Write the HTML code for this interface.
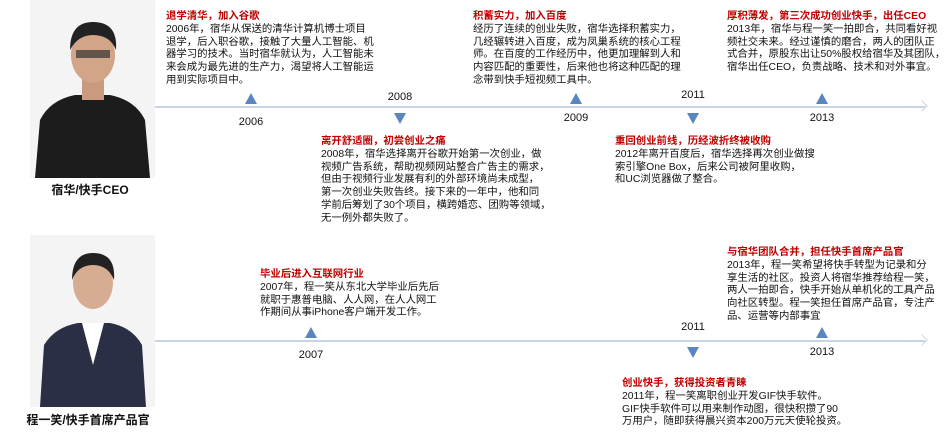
<!DOCTYPE html>
<html><head><meta charset="utf-8"><style>
body{margin:0;width:946px;height:441px;background:#fff;position:relative;overflow:hidden;font-family:"Liberation Sans","Noto Sans CJK SC",sans-serif;color:#111}
.b{position:absolute;font-size:10.4px;line-height:12.8px;white-space:nowrap}
.b .t{color:#c00000;font-weight:bold}
.y{position:absolute;font-size:11px;transform:translateX(-50%)}
.up,.dn{position:absolute;width:0;height:0;border-left:6px solid transparent;border-right:6px solid transparent;transform:translateX(-50%)}
.up{border-bottom:11px solid #5b85c0}
.dn{border-top:11px solid #5b85c0}
.ln{position:absolute;height:2px;background:#c9d3e6}
.nm{position:absolute;font-size:12px;font-weight:bold;transform:translateX(-50%);white-space:nowrap}
</style></head><body>
<svg style="position:absolute;left:30px;top:0" width="125" height="178">
<rect x="0" y="0" width="125" height="178" fill="#f4f4f4"/>
<path d="M5 178 L10 120 Q20 100 45 95 L80 95 Q105 100 115 120 L120 178Z" fill="#1c1c1c"/>
<rect x="52" y="78" width="22" height="22" fill="#c99a7e"/>
<ellipse cx="63" cy="55" rx="22" ry="28" fill="#d2a488"/>
<path d="M40 50 Q40 22 63 22 Q88 22 86 50 Q80 35 63 35 Q48 35 40 50Z" fill="#222"/>
<rect x="46" y="50" width="34" height="8" fill="#333" opacity=".7"/>
</svg>
<svg style="position:absolute;left:30px;top:235px" width="125" height="172">
<rect x="0" y="0" width="125" height="172" fill="#f4f4f4"/>
<path d="M10 172 L14 110 Q25 92 48 88 L80 88 Q102 92 112 110 L116 172Z" fill="#2a2f45"/>
<path d="M52 88 L63 130 L74 88Z" fill="#fff"/>
<ellipse cx="63" cy="48" rx="20" ry="26" fill="#d6ad92"/>
<path d="M42 45 Q42 18 63 18 Q86 18 84 45 Q78 30 63 30 Q48 30 42 45Z" fill="#222"/>
</svg>
<div class="nm" style="left:90px;top:181px">宿华/快手CEO</div>
<div class="nm" style="left:88px;top:411px">程一笑/快手首席产品官</div>

<div class="ln" style="left:155px;top:106px;width:770px"></div>
<div style="position:absolute;left:918px;top:102px;width:7px;height:7px;border-top:1px solid #c9d3e6;border-right:1px solid #c9d3e6;transform:rotate(45deg)"></div>
<div class="up" style="left:251px;top:93px"></div><div class="y" style="left:251px;top:116px">2006</div>
<div class="y" style="left:400px;top:91px">2008</div><div class="dn" style="left:400px;top:113px"></div>
<div class="up" style="left:576px;top:93px"></div><div class="y" style="left:576px;top:112px">2009</div>
<div class="y" style="left:693px;top:89px">2011</div><div class="dn" style="left:693px;top:113px"></div>
<div class="up" style="left:822px;top:93px"></div><div class="y" style="left:822px;top:112px">2013</div>

<div class="b" style="left:166px;top:11px"><div class="t">退学清华，加入谷歌</div>2006年，宿华从保送的清华计算机博士项目<br>退学，后入职谷歌，接触了大量人工智能、机<br>器学习的技术。当时宿华就认为，人工智能未<br>来会成为最先进的生产力，渴望将人工智能运<br>用到实际项目中。</div>
<div class="b" style="left:321px;top:136px"><div class="t">离开舒适圈，初尝创业之痛</div>2008年，宿华选择离开谷歌开始第一次创业，做<br>视频广告系统，帮助视频网站整合广告主的需求，<br>但由于视频行业发展有利的外部环境尚未成型，<br>第一次创业失败告终。接下来的一年中，他和同<br>学前后筹划了30个项目，横跨婚恋、团购等领域，<br>无一例外都失败了。</div>
<div class="b" style="left:473px;top:11px"><div class="t">积蓄实力，加入百度</div>经历了连续的创业失败，宿华选择积蓄实力，<br>几经辗转进入百度，成为凤巢系统的核心工程<br>师。在百度的工作经历中，他更加理解到人和<br>内容匹配的重要性，后来他也将这种匹配的理<br>念带到快手短视频工具中。</div>
<div class="b" style="left:615px;top:136px"><div class="t">重回创业前线，历经波折终被收购</div>2012年离开百度后，宿华选择再次创业做搜<br>索引擎One Box，后来公司被阿里收购，<br>和UC浏览器做了整合。</div>
<div class="b" style="left:727px;top:11px"><div class="t">厚积薄发，第三次成功创业快手，出任CEO</div>2013年，宿华与程一笑一拍即合，共同看好视<br>频社交未来。经过谨慎的磨合，两人的团队正<br>式合并，原股东出让50%股权给宿华及其团队，<br>宿华出任CEO，负责战略、技术和对外事宜。</div>

<div class="ln" style="left:155px;top:340px;width:770px"></div>
<div style="position:absolute;left:918px;top:336px;width:7px;height:7px;border-top:1px solid #c9d3e6;border-right:1px solid #c9d3e6;transform:rotate(45deg)"></div>
<div class="up" style="left:311px;top:327px"></div><div class="y" style="left:311px;top:349px">2007</div>
<div class="y" style="left:693px;top:321px">2011</div><div class="dn" style="left:693px;top:347px"></div>
<div class="up" style="left:822px;top:327px"></div><div class="y" style="left:822px;top:346px">2013</div>

<div class="b" style="left:260px;top:269px"><div class="t">毕业后进入互联网行业</div>2007年，程一笑从东北大学毕业后先后<br>就职于惠普电脑、人人网，在人人网工<br>作期间从事iPhone客户端开发工作。</div>
<div class="b" style="left:727px;top:247px"><div class="t">与宿华团队合并，担任快手首席产品官</div>2013年，程一笑希望将快手转型为记录和分<br>享生活的社区。投资人将宿华推荐给程一笑，<br>两人一拍即合，快手开始从单机化的工具产品<br>向社区转型。程一笑担任首席产品官，专注产<br>品、运营等内部事宜</div>
<div class="b" style="left:622px;top:378px"><div class="t">创业快手，获得投资者青睐</div>2011年，程一笑离职创业开发GIF快手软件。<br>GIF快手软件可以用来制作动图，很快积攒了90<br>万用户，随即获得晨兴资本200万元天使轮投资。</div>
</body></html>
